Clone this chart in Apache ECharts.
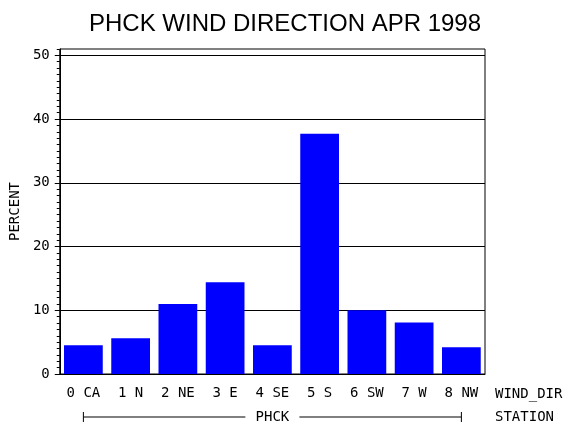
<!DOCTYPE html>
<html>
<head>
<meta charset="utf-8">
<script src="https://cdn.jsdelivr.net/npm/echarts@6/dist/echarts.min.js"></script>
<style>
    html, body { margin: 0; padding: 0; background: #fff; }
    #chart { width: 570px; height: 430px; }
</style>
</head>
<body>
<div id="chart"></div>
<script>
// 数据
const windDirs = ['0 CA', '1 N', '2 NE', '3 E', '4 SE', '5 S', '6 SW', '7 W', '8 NW'];
const percentValues = [4.5, 5.6, 11.0, 14.4, 4.5, 37.7, 10.0, 8.1, 4.2];
const majorTicks = [0, 10, 20, 30, 40, 50];
const stationName = 'PHCK';

const monoFont = '"DejaVu Sans Mono", monospace';

window.addEventListener('DOMContentLoaded', function() {
    initWindChart();
});

function initWindChart() {
    const chartDom = document.getElementById('chart');
    const myChart = echarts.init(chartDom);

    const option = {
        animation: false,
        title: {
            text: 'PHCK WIND DIRECTION APR 1998',
            left: 'center',
            top: 7,
            textStyle: {
                fontFamily: '"Liberation Sans", Arial, sans-serif',
                fontSize: 24,
                fontWeight: 'normal',
                color: '#000'
            }
        },
        grid: {
            left: 58,
            right: 85,
            top: 49,
            bottom: 56,
            show: true,
            borderColor: '#000',
            borderWidth: 1
        },
        xAxis: {
            type: 'category',
            data: windDirs,
            axisLine: { lineStyle: { color: '#000', width: 1 } },
            axisTick: { show: false },
            axisLabel: {
                margin: 12,
                color: '#000',
                fontFamily: monoFont,
                fontSize: 14
            }
        },
        yAxis: [
            {
                type: 'value',
                min: 0,
                max: 51,
                interval: 10,
                name: 'PERCENT',
                nameLocation: 'middle',
                nameGap: 33,
                nameTextStyle: {
                    color: '#000',
                    fontFamily: monoFont,
                    fontSize: 14
                },
                axisLine: { show: true, lineStyle: { color: '#000', width: 1 } },
                axisTick: {
                    show: true,
                    length: 5,
                    customValues: majorTicks,
                    lineStyle: { color: '#000' }
                },
                axisLabel: {
                    margin: 10,
                    color: '#000',
                    fontFamily: monoFont,
                    fontSize: 14,
                    customValues: majorTicks
                },
                splitLine: { show: true, lineStyle: { color: '#000', width: 1 } }
            },
            {
                // 小刻度
                type: 'value',
                min: 0,
                max: 51,
                interval: 1,
                position: 'left',
                axisLine: { show: false },
                axisTick: { show: true, length: 3, lineStyle: { color: '#000' } },
                axisLabel: { show: false },
                splitLine: { show: false }
            }
        ],
        series: [
            {
                name: 'PERCENT',
                type: 'bar',
                data: percentValues,
                barWidth: '82%',
                itemStyle: { color: '#0000ff' }
            }
        ]
    };

    myChart.setOption(option);

    // 站点括号和右侧标签
    const x0 = myChart.convertToPixel({ xAxisIndex: 0 }, windDirs[0]);
    const x1 = myChart.convertToPixel({ xAxisIndex: 0 }, windDirs[windDirs.length - 1]);
    const yBase = myChart.convertToPixel({ yAxisIndex: 0 }, 0);
    const xMid = (x0 + x1) / 2;
    const yBr = yBase + 43;
    const gapHalf = 27;

    myChart.setOption({
        graphic: [
            { type: 'line', shape: { x1: x0, y1: yBr, x2: xMid - gapHalf, y2: yBr }, style: { stroke: '#000', lineWidth: 1 } },
            { type: 'line', shape: { x1: xMid + gapHalf, y1: yBr, x2: x1, y2: yBr }, style: { stroke: '#000', lineWidth: 1 } },
            { type: 'line', shape: { x1: x0, y1: yBr - 5, x2: x0, y2: yBr + 5 }, style: { stroke: '#000', lineWidth: 1 } },
            { type: 'line', shape: { x1: x1, y1: yBr - 5, x2: x1, y2: yBr + 5 }, style: { stroke: '#000', lineWidth: 1 } },
            {
                type: 'text', x: xMid, y: yBr,
                style: { text: stationName, fill: '#000', font: '14px ' + monoFont, align: 'center', verticalAlign: 'middle' }
            },
            {
                type: 'text', x: 495, y: yBase + 20,
                style: { text: 'WIND_DIR', fill: '#000', font: '14px ' + monoFont, align: 'left', verticalAlign: 'middle' }
            },
            {
                type: 'text', x: 495, y: yBr,
                style: { text: 'STATION', fill: '#000', font: '14px ' + monoFont, align: 'left', verticalAlign: 'middle' }
            }
        ]
    });

    window.addEventListener('resize', () => myChart.resize());
}
</script>
</body>
</html>
